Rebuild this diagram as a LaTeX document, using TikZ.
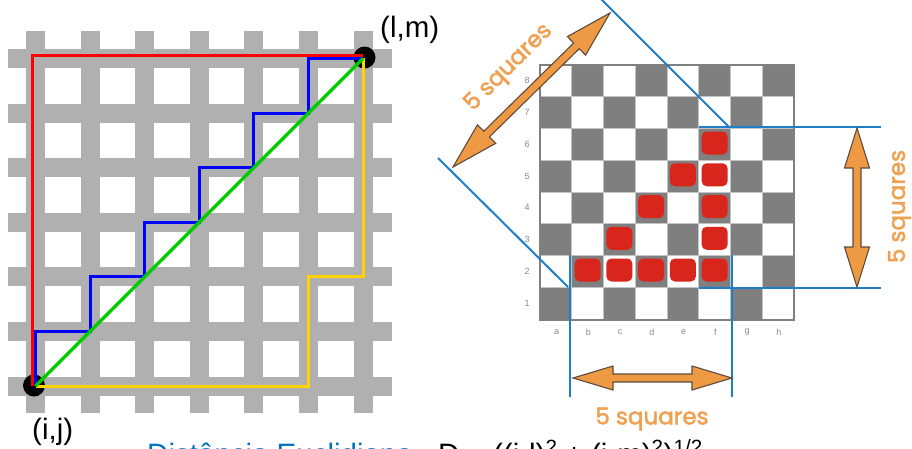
\documentclass[tikz,border=0pt]{standalone}
\usepackage{fontspec}
\setmainfont{Liberation Sans}
\newfontfamily\sqfont[FakeBold=2]{Poppins}
\usetikzlibrary{calc}
\definecolor{gridgray}{HTML}{B0B0B0}
\definecolor{pathred}{HTML}{FF0000}
\definecolor{pathblue}{HTML}{0000FF}
\definecolor{pathyellow}{HTML}{FFD200}
\definecolor{pathgreen}{HTML}{00CC00}
\definecolor{darksq}{HTML}{7F7F7F}
\definecolor{sqline}{HTML}{C4C4C4}
\definecolor{piecered}{HTML}{D9261C}
\definecolor{measblue}{HTML}{1E7EC8}
\definecolor{arroworange}{HTML}{EE9A45}
\definecolor{arrowedge}{HTML}{5E4B3C}
\definecolor{textorange}{HTML}{F0A050}
\definecolor{eucblue}{HTML}{0070C0}
\definecolor{labelgray}{HTML}{8A8A8A}
\newcommand\fatarrow[5]{%
  \begin{scope}[shift={(#1)},rotate=#2]
    \filldraw[arrowsty] (0,0) -- (#4,#5) -- (#4,4) -- ({#3-#4},4) -- ({#3-#4},#5) -- (#3,0)
      -- ({#3-#4},-#5) -- ({#3-#4},-4) -- (#4,-4) -- (#4,-#5) -- cycle;
  \end{scope}}
\begin{document}
\begin{tikzpicture}[x=1pt,y=-1pt,
  redl/.style={draw=pathred,line width=3.2pt},
  bluel/.style={draw=pathblue,line width=3pt},
  yell/.style={draw=pathyellow,line width=3pt},
  greenl/.style={draw=pathgreen,line width=3.5pt},
  dot/.style={circle,fill=black,minimum size=22pt,inner sep=0pt},
  lbl/.style={font=\fontsize{29.5}{32}\selectfont,inner sep=0pt},
  piece/.style={rectangle,rounded corners=5pt,fill=piecered,minimum width=26pt,minimum height=23pt,inner sep=0pt},
  rank/.style={font=\fontsize{9}{10}\selectfont,text=labelgray,inner sep=0pt},
  bline/.style={draw=measblue,line width=2pt},
  arrowsty/.style={fill=arroworange,draw=arrowedge,line width=1.1pt,line join=miter},
  sq/.style={font=\sqfont\fontsize{23}{25}\selectfont,text=textorange,inner sep=0pt},
  bigtext/.style={font=\fontsize{29.5}{32}\selectfont,inner sep=0pt,anchor=base west}
]
\useasboundingbox (0,0) rectangle (912,448);
\clip (0,0) rectangle (912,448);
\fill[white] (0,0) rectangle (912,448);

% ---- left grid ----
\foreach \k in {0,...,6}{
  \pgfmathsetmacro\gx{35.5+54.6*\k}
  \pgfmathsetmacro\gy{386-54.6*\k}
  \fill[gridgray] (8,{\gy-9.5}) rectangle (392,{\gy+9.5});
  \fill[gridgray] ({\gx-9.5},31) rectangle ({\gx+9.5},413);
}
\foreach \i in {0,...,6}{\foreach \j in {0,...,6}{
  \coordinate (g-\i-\j) at ({35.5+54.6*\i},{386-54.6*\j});
}}
\node[dot] (ij) at (34,385.5) {};
\node[dot] (lm) at (364.5,57.5) {};
\draw[redl] ($(g-0-0)+(-3,0)$) |- ($(g-6-6)+(0,-3)$);
\draw[bluel] (g-0-0) -- (g-0-1) -- (g-1-1) -- (g-1-2) -- (g-2-2) -- (g-2-3) -- (g-3-3)
  -- (g-3-4) -- (g-4-4) -- (g-4-5) -- (g-5-5) -- (g-5-6) -- (g-6-6);
\draw[yell] (g-0-0) -- (g-5-0) -- (g-5-2) -- (g-6-2) -- (g-6-6);
\draw[greenl] (g-0-0) -- (g-6-6);
\node[lbl,anchor=base west] (lmlabel) at (380,37) {(l,m)};
\node[lbl,anchor=base west] (ijlabel) at (32,439) {(i,j)};

% ---- chessboard ----
\foreach \f in {0,...,7}{\foreach \r in {1,...,8}{
  \pgfmathtruncatemacro\odd{mod(\f+\r,2)}
  \ifnum\odd=1
    \fill[darksq] ({540+31.75*\f},{65+31.75*(8-\r)}) rectangle ++(31.75,31.75);
  \fi
}}
\foreach \i in {1,...,7}{
  \draw[sqline,line width=1pt] ({540+31.75*\i},65) -- ({540+31.75*\i},320);
  \draw[sqline,line width=1pt] (540,{65+31.75*\i}) -- (794,{65+31.75*\i});
}
\draw[gray,line width=1.2pt] (540,65) rectangle (794,320);
\foreach \f/\r in {1/2,2/2,3/2,4/2,5/2,2/3,3/4,4/5,5/3,5/4,5/5,5/6}{
  \node[piece] (p-\f-\r) at ({540+31.75*\f+15.875},{65+31.75*(8-\r)+14.5}) {};
}
\foreach \r in {1,...,8}{
  \node[rank] (rk\r) at (527,{65+31.75*(8-\r)+15.875}) {\r};
}
\foreach \l [count=\f from 0] in {a,b,c,d,e,f,g,h}{
  \node[rank] (fl\l) at ({540+31.75*\f+16.5},332) {\l};
}

% ---- measurement lines ----
\draw[bline] (570,255) -- (570,397);
\draw[bline] (731.5,255) -- (731.5,397);
\draw[bline] (698.5,127) -- (881,127);
\draw[bline] (698.5,288.3) -- (881,288.3);
\draw[bline] (729,127) -- (600,-2);
\draw[bline] (568,287) -- (438,158);

% ---- orange arrows ----
\fatarrow{573,378}{0}{159}{40}{12}
\fatarrow{857,287}{90}{159}{40}{12.5}
\fatarrow{453,167}{44.45}{220}{47}{13}

\node[sq] (sqbottom) at (652,419) {5 squares};
\node[sq,rotate=90] (sqright) at (899.5,206.5) {5 squares};
\node[sq,rotate=45] (sqdiag) at (509,68) {5 squares};

% ---- bottom text ----
\node[bigtext,text=eucblue] (euc) at (147,464) {Distância Euclidiana};
\node[bigtext] (formula) at (438,464) {D = ((i-l)\textsuperscript{2} + (j-m)\textsuperscript{2})\textsuperscript{1/2}};
\end{tikzpicture}
\end{document}
